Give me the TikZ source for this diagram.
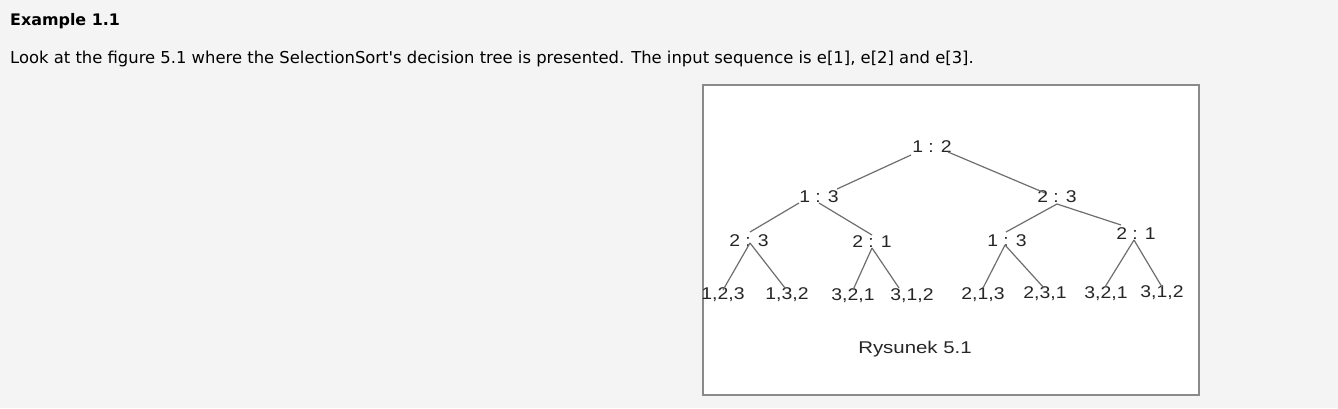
\documentclass[tikz,border=0pt]{standalone}
\usepackage{fontspec}
\setmainfont{DejaVu Sans}
\newfontfamily\figfont{Liberation Sans}
\definecolor{pagebg}{HTML}{F4F4F4}
\definecolor{edgegray}{HTML}{8A8A8A}
\definecolor{linegray}{HTML}{6E6E6E}
\newcommand{\stretchtxt}[1]{\scalebox{1.14}[1]{#1}}
\begin{document}
\begin{tikzpicture}[x=1pt,y=-1pt,
  lbl/.style={inner sep=0pt,font=\figfont\fontsize{17}{19}\selectfont,text=black!85},
  edge/.style={draw=linegray,line width=1.2pt},
  txt/.style={inner sep=0pt,anchor=west,text=black}]
\fill[pagebg] (0,0) rectangle (1338,408);
\useasboundingbox (0,0) rectangle (1338,408);
% header text
\node[txt,font=\bfseries\fontsize{15.9}{18}\selectfont] (head) at (10,21) {Example 1.1};
\node[txt,font=\fontsize{16.4}{19}\selectfont] (body) at (10,59) {Look at the figure 5.1 where the SelectionSort\textquotesingle s decision tree is presented. The input sequence is e[1], e[2] and e[3].};
% figure box
\node[draw=edgegray,line width=1.8pt,fill=white,inner sep=0pt,minimum width=496pt,minimum height=310pt] (box) at (951,240) {};
% internal nodes
\node[lbl] (r) at (932,147) {\stretchtxt{1 : 2}};
\node[lbl] (a) at (819,197) {\stretchtxt{1 : 3}};
\node[lbl] (b) at (1057,197) {\stretchtxt{2 : 3}};
\node[lbl] (aa) at (749,241) {\stretchtxt{2 : 3}};
\node[lbl] (ab) at (872,242) {\stretchtxt{2 : 1}};
\node[lbl] (ba) at (1007,241) {\stretchtxt{1 : 3}};
\node[lbl] (bb) at (1136,234) {\stretchtxt{2 : 1}};
% leaves
\node[lbl] (l1) at (723,295) {\stretchtxt{1,2,3}};
\node[lbl] (l2) at (787,295) {\stretchtxt{1,3,2}};
\node[lbl] (l3) at (853,296) {\stretchtxt{3,2,1}};
\node[lbl] (l4) at (912,296) {\stretchtxt{3,1,2}};
\node[lbl] (l5) at (983,295) {\stretchtxt{2,1,3}};
\node[lbl] (l6) at (1045,294) {\stretchtxt{2,3,1}};
\node[lbl] (l7) at (1106,294) {\stretchtxt{3,2,1}};
\node[lbl] (l8) at (1162,293) {\stretchtxt{3,1,2}};
\node[lbl] (cap) at (915,349) {\scalebox{1.2}[1]{Rysunek 5.1}};
% edges
\draw[edge] ([shift={(-21,8)}]r.center) -- ([shift={(18,-8)}]a.center);
\draw[edge] ([shift={(16,5)}]r.center) -- ([shift={(-12,-4)}]b.center);
\draw[edge] ([shift={(-20,6)}]a.center) -- ([shift={(1,-9)}]aa.center);
\draw[edge] ([shift={(0,6)}]a.center) -- ([shift={(0,-7)}]ab.center);
\draw[edge] ([shift={(0,7)}]b.center) -- ([shift={(-1,-9)}]ba.center);
\draw[edge] ([shift={(0,7)}]b.center) -- ([shift={(-15,-9)}]bb.center);
\draw[edge] ([shift={(1,2)}]aa.center) -- ([shift={(0,-5)}]l1.center);
\draw[edge] ([shift={(1,2)}]aa.center) -- ([shift={(-2,-7)}]l2.center);
\draw[edge] ([shift={(0,6)}]ab.center) -- ([shift={(0,-6)}]l3.center);
\draw[edge] ([shift={(0,6)}]ab.center) -- ([shift={(-13,-8)}]l4.center);
\draw[edge] ([shift={(-2,4)}]ba.center) -- ([shift={(0,-7)}]l5.center);
\draw[edge] ([shift={(-2,4)}]ba.center) -- ([shift={(-1,-6)}]l6.center);
\draw[edge] ([shift={(-2,6)}]bb.center) -- ([shift={(-1,-7)}]l7.center);
\draw[edge] ([shift={(-2,6)}]bb.center) -- ([shift={(0,-6)}]l8.center);
\end{tikzpicture}
\end{document}
